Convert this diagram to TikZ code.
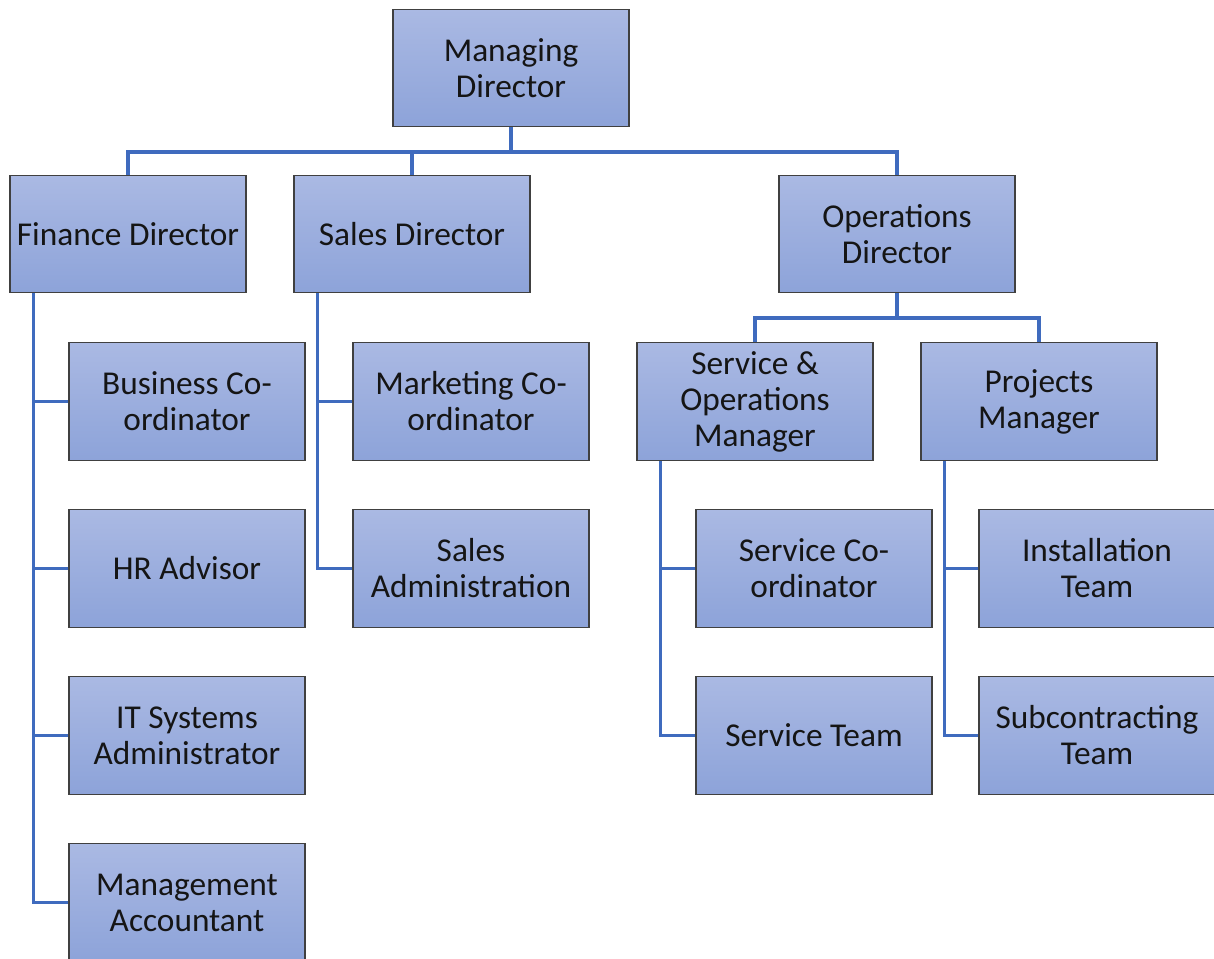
\documentclass[tikz,border=0pt]{standalone}
\usepackage{fontspec}
\setmainfont{Carlito}
\usetikzlibrary{calc}
\definecolor{boxtop}{HTML}{AAB9E3}
\definecolor{boxbot}{HTML}{8DA3D9}
\definecolor{boxline}{HTML}{404040}
\definecolor{conn}{HTML}{3F6BBE}
\definecolor{txt}{HTML}{151515}
\tikzset{
  orgbox/.style={draw=boxline, line width=0.9pt, top color=boxtop, bottom color=boxbot,
    minimum width=177pt, minimum height=88pt, inner sep=0pt, align=center,
    text=txt, font=\fontsize{25pt}{27pt}\selectfont},
  link/.style={draw=conn, line width=2.4pt}
}
\begin{document}
\begin{tikzpicture}[x=0.75pt,y=-0.75pt]
\useasboundingbox (0,0) rectangle (1214,958);
\clip (0,0) rectangle (1214,958);
\coordinate (bus) at (511,152);
\coordinate (obus) at (897,318);
% nodes
\node[orgbox] (md) at (511,68) {Managing\\Director};
\node[orgbox] (fd) at (128,234) {Finance Director};
\node[orgbox] (sd) at (412,234) {Sales Director};
\node[orgbox] (od) at (897,234) {Operations\\Director};
\node[orgbox] (som) at (755,401.5) {Service \&\\Operations\\Manager};
\node[orgbox] (pm) at (1039,401.5) {Projects\\Manager};
\node[orgbox] (bc) at (187,401.5) {Business Co-\\ordinator};
\node[orgbox] (hr) at (187,568.5) {HR Advisor};
\node[orgbox] (it) at (187,735.5) {IT Systems\\Administrator};
\node[orgbox] (ma) at (187,902.5) {Management\\Accountant};
\node[orgbox] (mc) at (471,401.5) {Marketing Co-\\ordinator};
\node[orgbox] (sa) at (471,568.5) {Sales\\Administration};
\node[orgbox] (sc) at (814,568.5) {Service Co-\\ordinator};
\node[orgbox] (st) at (814,735.5) {Service Team};
\node[orgbox] (inst) at (1097,568.5) {Installation\\Team};
\node[orgbox] (sub) at (1097,735.5) {Subcontracting\\Team};
% top level
\draw[link] (md.south) -- (md.south |- bus);
\draw[link] (fd.north) |- (bus) -| (od.north);
\draw[link] (sd.north) -- (sd.north |- bus);
% operations level
\draw[link] (od.south) -- (obus);
\draw[link] (som.north) |- (obus) -| (pm.north);
% finance spine
\coordinate (fs) at ($(fd.south west)+(24,0)$);
\draw[link] (fs) |- (ma.west);
\draw[link] (bc.west) -- (bc.west -| fs);
\draw[link] (hr.west) -- (hr.west -| fs);
\draw[link] (it.west) -- (it.west -| fs);
% sales spine
\coordinate (ss) at ($(sd.south west)+(24,0)$);
\draw[link] (ss) |- (sa.west);
\draw[link] (mc.west) -- (mc.west -| ss);
% service spine
\coordinate (vs) at ($(som.south west)+(24,0)$);
\draw[link] (vs) |- (st.west);
\draw[link] (sc.west) -- (sc.west -| vs);
% projects spine
\coordinate (ps) at ($(pm.south west)+(24,0)$);
\draw[link] (ps) |- (sub.west);
\draw[link] (inst.west) -- (inst.west -| ps);
\end{tikzpicture}
\end{document}
